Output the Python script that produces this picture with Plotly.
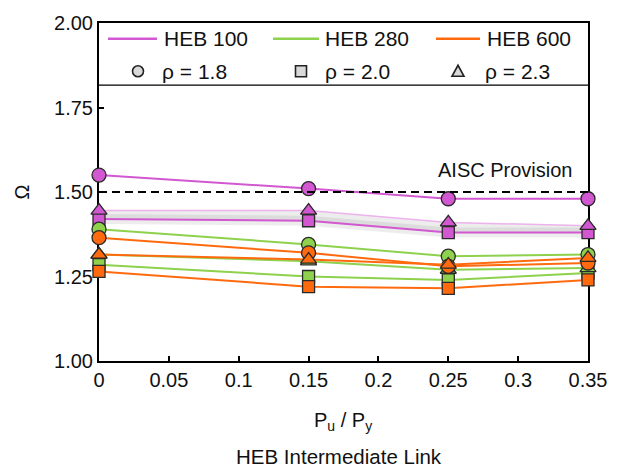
import plotly.graph_objects as go

# Axial load ratio P_u / P_y
load_ratio = [0, 0.15, 0.25, 0.35]

# Overstrength factor Omega for each section and rho value
heb100_rho18 = [1.55, 1.51, 1.48, 1.48]
heb100_rho20 = [1.42, 1.415, 1.38, 1.38]
heb100_rho23 = [1.445, 1.445, 1.41, 1.40]

heb280_rho18 = [1.39, 1.345, 1.31, 1.315]
heb280_rho20 = [1.285, 1.25, 1.24, 1.26]
heb280_rho23 = [1.315, 1.295, 1.27, 1.275]

heb600_rho18 = [1.365, 1.32, 1.28, 1.29]
heb600_rho20 = [1.265, 1.22, 1.215, 1.24]
heb600_rho23 = [1.315, 1.30, 1.285, 1.305]

aisc_limit = 1.5

sections = ["HEB 100", "HEB 280", "HEB 600"]
rho_labels = ["ρ = 1.8", "ρ = 2.0", "ρ = 2.3"]
x_ticks = [0, 0.05, 0.1, 0.15, 0.2, 0.25, 0.3, 0.35]
x_ticktext = ["0", "0.05", "0.1", "0.15", "0.2", "0.25", "0.3", "0.35"]
y_ticks = [1.0, 1.25, 1.5, 1.75, 2.0]

series = {
    "HEB 100": [heb100_rho18, heb100_rho20, heb100_rho23],
    "HEB 280": [heb280_rho18, heb280_rho20, heb280_rho23],
    "HEB 600": [heb600_rho18, heb600_rho20, heb600_rho23],
}

colors = {"HEB 100": "#D158D1", "HEB 280": "#8DD14C", "HEB 600": "#FF6A0F"}
symbols = ["circle", "square", "triangle-up"]
sizes = [14, 12, 14]
FONT = "Liberation Sans, Arial, sans-serif"
TXT = "#111"
W, H = 619, 471
ML, MR, MT, MB = 99, 31, 15, 110
# pixel frame of the plotting area used for placing legend / titles
FX0, FX1, FY0, FY1 = 99, 588, 18, 361

fig = go.Figure()

# soft grey shading between the HEB 100 rho=2.3 and rho=2.0 lines
fig.add_trace(go.Scatter(x=load_ratio, y=heb100_rho23, mode="lines",
                         line=dict(width=0, color="rgba(0,0,0,0)"),
                         hoverinfo="skip", showlegend=False))
fig.add_trace(go.Scatter(x=load_ratio, y=heb100_rho20, mode="lines",
                         line=dict(width=0, color="rgba(0,0,0,0)"),
                         fill="tonexty", fillcolor="rgba(0,0,0,0.07)",
                         hoverinfo="skip", showlegend=False))
fig.add_trace(go.Scatter(x=load_ratio, y=heb100_rho20, mode="lines",
                         line=dict(width=10, color="rgba(0,0,0,0.07)"),
                         hoverinfo="skip", showlegend=False))

for sec in sections:
    vals = series[sec]
    for order in [0, 1, 2]:
        y = vals[order]
        line_col = colors[sec]
        lw = 2
        if sec == "HEB 100" and order == 2:
            line_col = "#ECB3EC"
            lw = 1.5
        fig.add_trace(go.Scatter(
            x=load_ratio, y=y, mode="lines+markers",
            name=f"{sec}, {rho_labels[order]}",
            line=dict(color=line_col, width=lw),
            marker=dict(symbol=symbols[order], size=sizes[order],
                        color=colors[sec],
                        line=dict(color="#2a2a2a", width=1.3)),
            cliponaxis=False, showlegend=False,
        ))

# AISC provision limit
fig.add_shape(type="line", xref="x", yref="y", x0=0, x1=0.35,
              y0=aisc_limit, y1=aisc_limit,
              line=dict(color="black", width=2, dash="8px,5px"))
fig.add_annotation(x=0.341, y=aisc_limit, xref="x", yref="y",
                   text="AISC Provision", showarrow=False,
                   xanchor="right", yanchor="middle", yshift=22,
                   font=dict(family=FONT, size=20, color=TXT))


def px(xp):
    return (xp - FX0) / (FX1 - FX0)


def py(yp):
    return (FY1 - yp) / (FY1 - FY0)


# legend frame bottom edge
fig.add_shape(type="line", xref="paper", yref="paper", x0=0, x1=1,
              y0=py(81), y1=py(81), line=dict(color="black", width=1.2))

# legend row 1: section colours
line_keys = [(108, 157, 162), (273, 319, 323), (436, 480, 485)]
for sec, (a, b, t) in zip(sections, line_keys):
    fig.add_shape(type="line", xref="paper", yref="paper",
                  x0=px(a), x1=px(b), y0=py(34), y1=py(34),
                  line=dict(color=colors[sec], width=2.5))
    fig.add_annotation(x=px(t), y=py(34), xref="paper", yref="paper",
                       text=sec, showarrow=False, xanchor="left",
                       yanchor="middle",
                       font=dict(family=FONT, size=21, color=TXT))

# legend row 2: rho symbols
key_fill = "#D9D9D9"
key_line = dict(color="#222", width=1.6)
mk_x = [138, 301, 458]
txt_x = [160, 323, 483]
fig.add_shape(type="circle", xref="paper", yref="paper",
              xsizemode="pixel", ysizemode="pixel",
              xanchor=px(mk_x[0]), yanchor=py(67),
              x0=-5.5, x1=5.5, y0=-5.5, y1=5.5,
              fillcolor=key_fill, line=key_line)
fig.add_shape(type="rect", xref="paper", yref="paper",
              xsizemode="pixel", ysizemode="pixel",
              xanchor=px(mk_x[1]), yanchor=py(67),
              x0=-5.5, x1=5.5, y0=-5.5, y1=5.5,
              fillcolor=key_fill, line=key_line)
fig.add_shape(type="path", xref="paper", yref="paper",
              xsizemode="pixel", ysizemode="pixel",
              xanchor=px(mk_x[2]), yanchor=py(67),
              path="M -6,-5 L 6,-5 L 0,6 Z",
              fillcolor=key_fill, line=key_line)
for lab, t in zip(rho_labels, txt_x):
    fig.add_annotation(x=px(t), y=py(67), xref="paper", yref="paper",
                       text=lab, showarrow=False, xanchor="left",
                       yanchor="middle",
                       font=dict(family=FONT, size=21, color=TXT))

# axis titles
fig.add_annotation(x=px(343), y=py(422), xref="paper", yref="paper",
                   text="P<sub>u</sub> / P<sub>y</sub>", showarrow=False,
                   xanchor="center", yanchor="middle",
                   font=dict(family=FONT, size=20, color=TXT))
fig.add_annotation(x=px(339), y=py(458), xref="paper", yref="paper",
                   text="HEB Intermediate Link", showarrow=False,
                   xanchor="center", yanchor="middle",
                   font=dict(family=FONT, size=20.5, color=TXT))
fig.add_annotation(x=px(22), y=py(190), xref="paper", yref="paper",
                   text="Ω", textangle=-90, showarrow=False,
                   xanchor="center", yanchor="middle",
                   font=dict(family=FONT, size=20, color=TXT))

axis_common = dict(showline=True, linecolor="black", linewidth=2,
                   mirror=True, ticks="inside", ticklen=5, tickwidth=1.5,
                   tickcolor="black", showgrid=False, zeroline=False,
                   layer="below traces",
                   tickfont=dict(family=FONT, size=20, color=TXT))

fig.update_layout(
    width=W, height=H,
    margin=dict(l=ML, r=MR, t=MT, b=MB),
    paper_bgcolor="white", plot_bgcolor="white",
    showlegend=False,
    xaxis=dict(range=[0, 0.35], tickvals=x_ticks, ticktext=x_ticktext,
               **axis_common),
    yaxis=dict(range=[1, 2], tickvals=y_ticks, tickformat=".2f",
               **axis_common),
)

fig.write_html("out.html")
